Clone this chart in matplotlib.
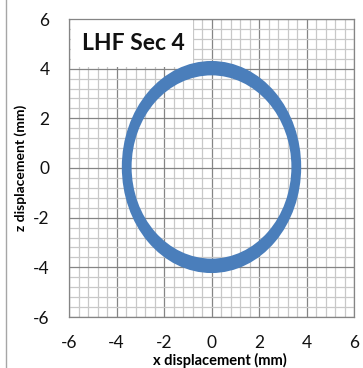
import matplotlib
matplotlib.use("Agg")
from matplotlib import pyplot as plt
from matplotlib.patches import Ellipse, Rectangle
from matplotlib.lines import Line2D
from matplotlib.ticker import MultipleLocator

# ring: a few overlapping cycles
x_center = [0.0, 0.0, 0.0]
z_center = [0.04, 0.04, 0.04]
x_amp = [3.51, 3.57, 3.63]
z_amp = [3.83, 3.98, 4.13]

ticks = [-6, -4, -2, 0, 2, 4, 6]
tick_labels = ["-6", "-4", "-2", "0", "2", "4", "6"]

plt.rcParams['font.family'] = ['Lato', 'DejaVu Sans']
plt.rcParams['axes.unicode_minus'] = False

fig = plt.figure(figsize=(3.63, 3.68), dpi=100)
ax = fig.add_axes([69 / 363, 51 / 368, 285 / 363, 298 / 368])

ax.set_xlim(-6, 6)
ax.set_ylim(-6, 6)
ax.set_xticks(ticks)
ax.set_xticklabels(tick_labels)
ax.set_yticks(ticks)
ax.set_yticklabels(tick_labels)
ax.xaxis.set_minor_locator(MultipleLocator(0.4))
ax.yaxis.set_minor_locator(MultipleLocator(0.4))

ax.grid(which='minor', color='#c8c8c8', linewidth=0.9, zorder=0)
ax.grid(which='major', color='#858585', linewidth=0.9, zorder=0)
ax.set_axisbelow(True)
ax.tick_params(which='both', length=0)
ax.tick_params(axis='both', labelsize=12.5, colors='#111111')
ax.tick_params(axis='x', pad=13)
ax.tick_params(axis='y', pad=14)
for s in ax.spines.values():
    s.set_color('#858585')
    s.set_linewidth(0.9)

# white label box
ax.add_patch(Rectangle((-5.93, 4.05), 5.15, 1.9, facecolor='white',
                       edgecolor='none', zorder=2))
ax.text(-5.45, 5.0, "LHF Sec 4", fontsize=16.5, fontweight='bold',
        va='center', ha='left', color='#111111', zorder=4)

for i in range(len(x_amp)):
    ax.add_patch(Ellipse((x_center[i], z_center[i]), 2 * x_amp[i], 2 * z_amp[i],
                         fill=False, edgecolor='#4a7ebb', linewidth=5, zorder=3))

ax.set_xlabel("x displacement (mm)", fontsize=10.5, fontweight='bold')
ax.xaxis.set_label_coords(0.53, -0.122)
ax.set_ylabel("z displacement (mm)", fontsize=10, fontweight='bold')
ax.yaxis.set_label_coords(-0.148, 0.5)

fig.add_artist(Line2D([5.5 / 363, 5.5 / 363], [0, 1], color='#a6a6a6',
                      linewidth=1, transform=fig.transFigure))

fig.savefig("out.png", dpi=100)
